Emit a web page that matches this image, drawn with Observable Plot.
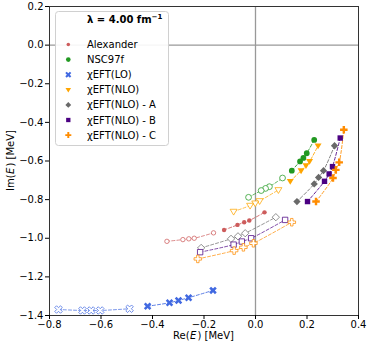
<!DOCTYPE html>
<html><head><meta charset="utf-8">
<script src="https://cdn.jsdelivr.net/npm/d3@7"></script>
<script src="https://cdn.jsdelivr.net/npm/@observablehq/plot@0.6"></script>
<style>
body{margin:0;background:#fff;font-family:"DejaVu Sans",sans-serif;}
#chart{position:relative;width:374px;height:346px;}
</style>
</head><body><div id="chart"></div>
<script>
// ---- data: [Re(E), Im(E)] in MeV ----
const alexanderFilled = [[0.035,-0.866],[-0.024,-0.908],[-0.044,-0.917],[-0.070,-0.931],[-0.122,-0.957]];
const alexanderOpen   = [[-0.163,-0.972],[-0.238,-1.000],[-0.259,-1.003],[-0.282,-1.007],[-0.344,-1.016]];
const nsc97fFilled    = [[0.228,-0.491],[0.199,-0.560],[0.186,-0.584],[0.173,-0.602],[0.141,-0.650]];
const nsc97fOpen      = [[0.105,-0.688],[0.054,-0.733],[0.039,-0.742],[0.022,-0.753],[-0.027,-0.788]];
const loFilled        = [[-0.165,-1.270],[-0.260,-1.308],[-0.299,-1.322],[-0.334,-1.334],[-0.419,-1.352]];
const loOpen          = [[-0.489,-1.365],[-0.603,-1.374],[-0.638,-1.374],[-0.672,-1.374],[-0.765,-1.369]];
const nloFilled       = [[0.243,-0.521],[0.210,-0.602],[0.196,-0.624],[0.177,-0.650],[0.135,-0.705]];
const nloOpen         = [[0.089,-0.750],[0.016,-0.807],[-0.001,-0.819],[-0.021,-0.831],[-0.085,-0.862]];
const nloAFilled      = [[0.307,-0.521],[0.264,-0.650],[0.245,-0.685],[0.228,-0.719],[0.161,-0.810]];
const nloAOpen        = [[0.079,-0.891],[-0.040,-0.974],[-0.068,-0.990],[-0.095,-1.003],[-0.211,-1.050]];
const nloBFilled      = [[0.329,-0.481],[0.299,-0.629],[0.286,-0.667],[0.268,-0.705],[0.202,-0.810]];
const nloBOpen        = [[0.115,-0.905],[-0.017,-1.000],[-0.053,-1.017],[-0.085,-1.033],[-0.215,-1.072]];
const nloCFilled      = [[0.343,-0.438],[0.325,-0.607],[0.312,-0.646],[0.301,-0.688],[0.235,-0.810]];
const nloCOpen        = [[0.141,-0.917],[-0.008,-1.026],[-0.047,-1.047],[-0.083,-1.064],[-0.224,-1.107]];

const seriesNames = ["Alexander","NSC97f","\u03c7EFT(LO)","\u03c7EFT(NLO)","\u03c7EFT(NLO) - A","\u03c7EFT(NLO) - B","\u03c7EFT(NLO) - C"];
const seriesColors = ["#cd5c5c","#229922","#4169e1","#ffa500","#696969","#4b0082","#ff8c00"];
const xTicks = [-0.8,-0.6,-0.4,-0.2,0.0,0.2,0.4];
const yTicks = [-1.4,-1.2,-1.0,-0.8,-0.6,-0.4,-0.2,0.0,0.2];

// ---- custom symbols (r = sqrt(size/PI)) ----
function poly(ctx, pts){ ctx.moveTo(pts[0][0],pts[0][1]); for(let i=1;i<pts.length;i++) ctx.lineTo(pts[i][0],pts[i][1]); ctx.closePath(); }
const rr = size => Math.sqrt(size/Math.PI);
const symCircle = {draw(ctx,size){ const r=rr(size); ctx.moveTo(r,0); ctx.arc(0,0,r,0,2*Math.PI); }};
const crossPts = (a,e) => [[-e,-a],[-a,-a],[-a,-e],[a,-e],[a,-a],[e,-a],[e,a],[a,a],[a,e],[-a,e],[-a,a],[-e,a]];
const symPlus = {draw(ctx,size){ const r=rr(size); poly(ctx, crossPts(r*0.42,r*1.3)); }};
const symX = {draw(ctx,size){ const r=rr(size); const c=Math.SQRT1_2; poly(ctx, crossPts(r*0.42,r*1.35).map(([x,y])=>[(x-y)*c,(x+y)*c])); }};
const symTriDown = {draw(ctx,size){ const r=rr(size); poly(ctx, [[0,r*1.2],[-r*1.2,-r*0.8],[r*1.2,-r*0.8]]); }};
const symDiamond = {draw(ctx,size){ const r=rr(size)*1.3; poly(ctx, [[0,-r],[r,0],[0,r],[-r,0]]); }};
const symSquare = {draw(ctx,size){ const r=rr(size)*0.9; poly(ctx, [[-r,-r],[r,-r],[r,r],[-r,r]]); }};

const seriesSymbols = [symCircle,symCircle,symX,symTriDown,symDiamond,symSquare,symPlus];
const seriesR = [2.2,2.9,3.0,2.9,2.8,3.0,2.9];
const filledSets = [alexanderFilled,nsc97fFilled,loFilled,nloFilled,nloAFilled,nloBFilled,nloCFilled];
const openSets = [alexanderOpen,nsc97fOpen,loOpen,nloOpen,nloAOpen,nloBOpen,nloCOpen];

const sortX = a => a.slice().sort((p,q)=>p[0]-q[0]);
const marks = [
  Plot.ruleX([0], {stroke:"#999", strokeWidth:1.3}),
  Plot.ruleY([0], {stroke:"#999", strokeWidth:1.3})
];
seriesNames.forEach((name,i)=>{
  const col = seriesColors[i];
  marks.push(Plot.line(sortX(openSets[i]), {x:d=>d[0], y:d=>d[1], stroke:col, strokeOpacity:0.7, strokeWidth:1, strokeDasharray:"3,2", curve:"catmull-rom"}));
  marks.push(Plot.line(sortX(filledSets[i]), {x:d=>d[0], y:d=>d[1], stroke:col, strokeOpacity:0.85, strokeWidth:1, strokeDasharray:"3,2", curve:"catmull-rom"}));
});
seriesNames.forEach((name,i)=>{
  const col = seriesColors[i];
  marks.push(Plot.dot(openSets[i], {x:d=>d[0], y:d=>d[1], symbol:seriesSymbols[i], r:seriesR[i], fill:"white", stroke:col, strokeOpacity:0.75, strokeWidth:1}));
  marks.push(Plot.dot(filledSets[i], {x:d=>d[0], y:d=>d[1], symbol:seriesSymbols[i], r:seriesR[i], fill:col, stroke:"none"}));
});
marks.push(Plot.frame({stroke:"#333", strokeWidth:1}));
marks.push(Plot.axisX({ticks:xTicks, tickFormat:d3.format(".1f"), tickSize:4, tickPadding:1, label:null, fontSize:10}));
marks.push(Plot.axisY({ticks:yTicks, tickFormat:d3.format(".1f"), tickSize:4, tickPadding:2, label:null, fontSize:10}));

const chart = Plot.plot({
  width:374, height:346,
  marginLeft:49, marginRight:16, marginTop:6, marginBottom:31,
  x:{domain:[-0.8,0.4]},
  y:{domain:[-1.4,0.2]},
  style:{fontFamily:"DejaVu Sans, sans-serif", fontSize:"10px", color:"#000", background:"#fff"},
  marks
});
document.getElementById("chart").appendChild(chart);

// ---- axis labels with italic E ----
const svg = d3.select(chart);
function axisLabel(sel, pre){
  sel.append("tspan").text(pre + "(");
  sel.append("tspan").attr("font-style","italic").attr("dx",0.5).text("E");
  sel.append("tspan").attr("dx",1).text(") [MeV]");
}
axisLabel(svg.append("text").attr("x",203.5).attr("y",339).attr("text-anchor","middle")
  .attr("font-size",10).attr("font-family","DejaVu Sans, sans-serif").attr("fill","#000"), "Re");
axisLabel(svg.append("text").attr("transform","translate(13.5,160.5) rotate(-90)").attr("text-anchor","middle")
  .attr("font-size",10).attr("font-family","DejaVu Sans, sans-serif").attr("fill","#000"), "Im");

// ---- legend ----
const lg = svg.append("g").attr("font-family","DejaVu Sans, sans-serif").attr("font-size",10).attr("text-anchor","start");
lg.append("rect").attr("x",55.5).attr("y",11.5).attr("width",113).attr("height",134).attr("rx",3)
  .attr("fill","white").attr("fill-opacity",0.9).attr("stroke","#d0d0d0").attr("stroke-width",1);
const tt = lg.append("text").attr("x",87).attr("y",22.5).attr("font-weight","bold").attr("fill","#000").attr("text-anchor","start")
  .text("\u03bb = 4.00 fm");
tt.append("tspan").attr("dy",-4).attr("font-size",7).text("\u22121");
seriesNames.forEach((name,i)=>{
  const cy = 44.5 + i*15.1;
  const lr = seriesR[i]*0.8;
  lg.append("path").attr("transform",`translate(68.3,${cy})`)
    .attr("d", d3.symbol(seriesSymbols[i], Math.PI*lr*lr)())
    .attr("fill", seriesColors[i]);
  lg.append("text").attr("x",87).attr("y",cy).attr("dy","0.35em").attr("fill","#000").attr("text-anchor","start").text(name);
});
</script></body></html>
